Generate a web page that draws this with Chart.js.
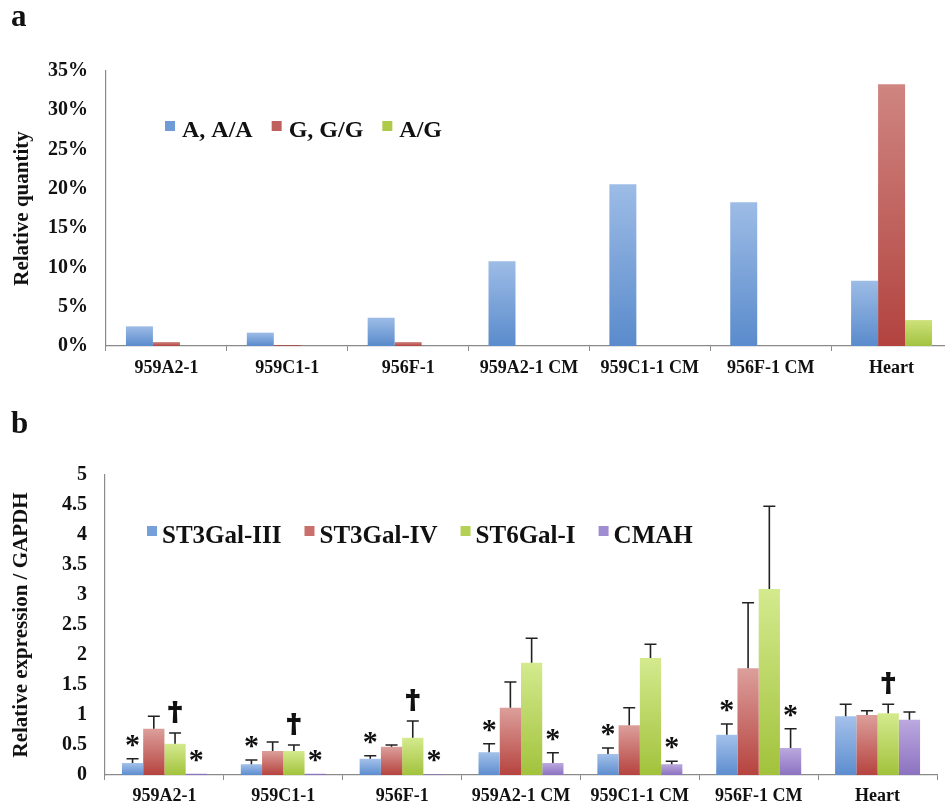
<!DOCTYPE html>
<html>
<head>
<meta charset="utf-8">
<script src="https://cdn.jsdelivr.net/npm/chart.js@4.4.1/dist/chart.umd.min.js"></script>
<style>
  html, body { margin: 0; padding: 0; background: #fff; overflow: hidden; width: 945px; height: 807px; }
  .panel { position: absolute; left: 0; }
</style>
</head>
<body>
<div class="panel" style="top:0; width:960px; height:390px;"><canvas id="chartA"></canvas></div>
<div class="panel" style="top:400px; width:945px; height:407px;"><canvas id="chartB"></canvas></div>

<script>
// categories shared by both panels
const categories = ['959A2-1', '959C1-1', '956F-1', '959A2-1 CM', '959C1-1 CM', '956F-1 CM', 'Heart'];

// panel a: relative quantity (%)
const seriesA = ['A, A/A', 'G, G/G', 'A/G'];
const valAA = [2.5, 1.7, 3.6, 10.8, 20.6, 18.3, 8.3];
const valGG = [0.5, 0.1, 0.5, 0, 0, 0, 33.3];
const valAG = [0, 0, 0, 0, 0, 0, 3.3];
const ticksA = [0, 5, 10, 15, 20, 25, 30, 35];

// panel b: relative expression / GAPDH
const seriesB = ['ST3Gal-III', 'ST3Gal-IV', 'ST6Gal-I', 'CMAH'];
const valIII = [0.20, 0.18, 0.27, 0.38, 0.35, 0.67, 0.98];
const valIV = [0.77, 0.40, 0.47, 1.12, 0.83, 1.78, 1.00];
const valVI = [0.52, 0.40, 0.62, 1.87, 1.95, 3.10, 1.03];
const valCMAH = [0.02, 0.02, 0.01, 0.20, 0.18, 0.45, 0.92];
const errIII = [0.07, 0.07, 0.05, 0.14, 0.10, 0.18, 0.20];
const errIV = [0.21, 0.15, 0.03, 0.43, 0.29, 1.09, 0.07];
const errVI = [0.18, 0.10, 0.28, 0.41, 0.23, 1.38, 0.15];
const errCMAH = [0, 0, 0, 0.17, 0.05, 0.32, 0.13];
const marksIII = ['*', '*', '*', '*', '*', '*', ''];
const marksIV = ['', '', '', '', '', '', ''];
const marksVI = ['†', '†', '†', '', '', '', '†'];
const marksCMAH = ['*', '*', '*', '*', '*', '*', ''];

const SERIF = '"Liberation Serif", "Times New Roman", serif';
const INK = '#111';
const AXIS = '#8a8a8a';

// light top -> dark bottom, per bar
function barFill(light, dark) {
    return ctx => {
        const chart = ctx.chart;
        const y = chart.scales && chart.scales.y;
        if (ctx.type !== 'data' || !y || !chart.chartArea) return dark;
        const top = y.getPixelForValue(ctx.raw);
        const bottom = y.getPixelForValue(0);
        if (!isFinite(top) || bottom - top < 2) return dark;
        const g = chart.ctx.createLinearGradient(0, top, 0, bottom);
        g.addColorStop(0, light);
        g.addColorStop(1, dark);
        return g;
    };
}

// legend drawn inside the plot area, plus the panel letter
const innerLegend = {
    id: 'innerLegend',
    afterDraw(chart, args, opts) {
        const { ctx, chartArea } = chart;
        ctx.save();
        ctx.fillStyle = INK;
        ctx.font = 'bold ' + opts.tagSize + 'px ' + SERIF;
        ctx.textBaseline = 'alphabetic';
        ctx.fillText(opts.tag, 11, opts.tagY);

        ctx.font = 'bold ' + opts.size + 'px ' + SERIF;
        let x = chartArea.left + opts.dx;
        const base = chartArea.top + opts.dy;
        const capTop = base - Math.round(opts.size * 0.66);
        chart.data.datasets.forEach(ds => {
            ctx.fillStyle = ds.legendColor;
            ctx.fillRect(x, capTop, 10, 10);
            x += 10 + opts.boxGap;
            ctx.fillStyle = INK;
            ctx.fillText(ds.label, x, base);
            x += ctx.measureText(ds.label).width + opts.itemGap;
        });
        ctx.restore();
    }
};

// upper error bars and significance marks
const errorBars = {
    id: 'errorBars',
    afterDatasetsDraw(chart) {
        const { ctx } = chart;
        const y = chart.scales.y;
        ctx.save();
        chart.data.datasets.forEach((ds, i) => {
            if (!ds.errors) return;
            const meta = chart.getDatasetMeta(i);
            meta.data.forEach((bar, j) => {
                const err = ds.errors[j];
                const yTop = y.getPixelForValue(ds.data[j] + err);
                if (err > 0) {
                    ctx.strokeStyle = '#222';
                    ctx.lineWidth = 1.6;
                    ctx.beginPath();
                    ctx.moveTo(bar.x, bar.y);
                    ctx.lineTo(bar.x, yTop);
                    ctx.moveTo(bar.x - 6, yTop);
                    ctx.lineTo(bar.x + 6, yTop);
                    ctx.stroke();
                }
                const mark = ds.marks && ds.marks[j];
                if (mark) {
                    ctx.fillStyle = INK;
                    ctx.strokeStyle = INK;
                    ctx.textAlign = 'center';
                    ctx.textBaseline = 'alphabetic';
                    if (mark === '*') {
                        ctx.font = 'bold 30px ' + SERIF;
                        ctx.fillText(mark, bar.x, yTop - 5);
                    } else {
                        ctx.font = 'bold 25px "DejaVu Serif", serif';
                        ctx.lineWidth = 1.8;
                        ctx.fillText(mark, bar.x, yTop - 13);
                        ctx.strokeText(mark, bar.x, yTop - 13);
                    }
                }
            });
        });
        ctx.restore();
    }
};

function makeOptions(o) {
    return {
        responsive: true,
        maintainAspectRatio: false,
        animation: false,
        layout: { padding: { top: o.padTop, right: o.padRight, left: 0, bottom: 0 } },
        plugins: {
            legend: { display: false },
            tooltip: { enabled: false },
            innerLegend: o.legend
        },
        scales: {
            x: {
                grid: { display: true, drawOnChartArea: false, drawTicks: true, tickLength: 5, color: AXIS, offset: true },
                border: { display: true, color: AXIS, width: 1.2 },
                ticks: { color: INK, font: { family: SERIF, size: 18, weight: 'bold' }, padding: o.xPad, maxRotation: 0, autoSkip: false },
                afterFit: s => { s.height = o.xHeight; }
            },
            y: {
                min: o.min, max: o.max,
                grid: { display: false, drawTicks: false },
                border: { display: true, color: AXIS, width: 1.2 },
                afterBuildTicks: o.afterBuildTicks,
                ticks: {
                    color: INK, padding: 18, stepSize: o.step,
                    font: { family: SERIF, size: 20, weight: 'bold' },
                    callback: o.tickFmt
                },
                title: {
                    display: true, text: o.yTitle, color: INK,
                    font: { family: SERIF, size: o.yTitleSize, weight: 'bold' },
                    padding: { top: o.yTitlePad, bottom: 0 }
                },
                afterFit: s => { s.width = o.yWidth; }
            }
        }
    };
}

new Chart(document.getElementById('chartA').getContext('2d'), {
    type: 'bar',
    data: {
        labels: categories,
        datasets: [
            { label: seriesA[0], data: valAA, backgroundColor: barFill('#9dbce6', '#5a8bcc'), legendColor: '#6f9bd6' },
            { label: seriesA[1], data: valGG, backgroundColor: barFill('#cf8581', '#b2433f'), legendColor: '#c0605c' },
            { label: seriesA[2], data: valAG, backgroundColor: barFill('#cde27a', '#a3c240'), legendColor: '#afca48' }
        ].map(d => Object.assign(d, { categoryPercentage: 0.67, barPercentage: 1, borderWidth: 0 }))
    },
    options: makeOptions({
        padTop: 71, padRight: 8, xHeight: 44, xPad: 7, yWidth: 106,
        min: 0, max: 35, step: 5,
        afterBuildTicks: s => { s.ticks = ticksA.map(v => ({ value: v })); },
        tickFmt: v => v + '%',
        yTitle: 'Relative quantity', yTitleSize: 21, yTitlePad: 10,
        legend: { tag: 'a', tagY: 26, tagSize: 31, dx: 59, dy: 66, size: 24, boxGap: 7, itemGap: 19 }
    }),
    plugins: [innerLegend]
});

new Chart(document.getElementById('chartB').getContext('2d'), {
    type: 'bar',
    data: {
        labels: categories,
        datasets: [
            { label: seriesB[0], data: valIII, errors: errIII, marks: marksIII, backgroundColor: barFill('#a4c1ea', '#5d8dcf'), legendColor: '#75a0da' },
            { label: seriesB[1], data: valIV, errors: errIV, marks: marksIV, backgroundColor: barFill('#dc9f9b', '#b6433f'), legendColor: '#c9706c' },
            { label: seriesB[2], data: valVI, errors: errVI, marks: marksVI, backgroundColor: barFill('#d4ea8e', '#a2c23c'), legendColor: '#b4d155' },
            { label: seriesB[3], data: valCMAH, errors: errCMAH, marks: marksCMAH, backgroundColor: barFill('#bba9df', '#8c72c0'), legendColor: '#a08cd0' }
        ].map(d => Object.assign(d, { categoryPercentage: 0.715, barPercentage: 1, borderWidth: 0 }))
    },
    options: makeOptions({
        padTop: 75, padRight: 8, xHeight: 32, xPad: 6, yWidth: 105,
        min: 0, max: 5, step: 0.5,
        afterBuildTicks: undefined,
        tickFmt: v => String(v),
        yTitle: 'Relative expression / GAPDH', yTitleSize: 21, yTitlePad: 9,
        legend: { tag: 'b', tagY: 33, tagSize: 31, dx: 42, dy: 68, size: 25, boxGap: 5, itemGap: 23 }
    }),
    plugins: [innerLegend, errorBars]
});
</script>
</body>
</html>
